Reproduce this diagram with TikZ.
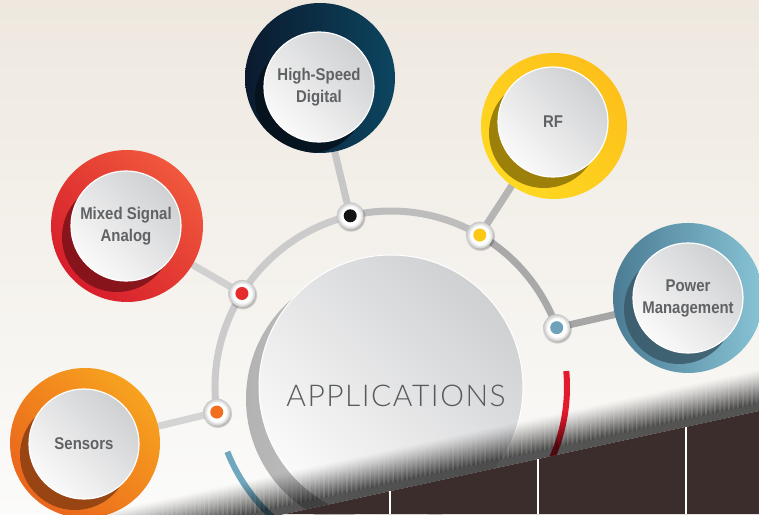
\documentclass[tikz,border=0pt]{standalone}
\usepackage{fontspec}
\setmainfont{Liberation Sans}
\newfontfamily\labelfont[FakeStretch=0.88]{Liberation Sans}
\newfontfamily\titlefont[LetterSpace=5]{Lato Light}
\usetikzlibrary{calc,shadows}

% palette
\definecolor{bgtop}{HTML}{EEE8DF}
\definecolor{bgmid}{HTML}{F6F4F0}
\definecolor{bgbot}{HTML}{FBFBFA}
\definecolor{labelgrey}{HTML}{616264}
\definecolor{titlegrey}{HTML}{58595B}
\definecolor{discTop}{HTML}{CFD0D2}
\definecolor{discBot}{HTML}{FAFAFA}
\definecolor{ground}{HTML}{3B2D2C}
\definecolor{arcA}{HTML}{CBCBCB}
\definecolor{arcB}{HTML}{BDBDBD}
\definecolor{arcC}{HTML}{A9A9A9}
% ring colours: light, dark, shadow
\definecolor{orA}{HTML}{F7A21F}\definecolor{orB}{HTML}{EA651C}\definecolor{orS}{HTML}{8A3E12}
\definecolor{rdA}{HTML}{F0583C}\definecolor{rdB}{HTML}{D71E2B}\definecolor{rdS}{HTML}{7A1219}
\definecolor{nvA}{HTML}{0C4560}\definecolor{nvB}{HTML}{0B1A2E}\definecolor{nvS}{HTML}{06111B}
\definecolor{ylA}{HTML}{FDC01A}\definecolor{ylB}{HTML}{FED821}\definecolor{ylS}{HTML}{8C7205}
\definecolor{blA}{HTML}{88C3D5}\definecolor{blB}{HTML}{4B7C94}\definecolor{blS}{HTML}{3A5A6A}
% hub centre colours
\definecolor{hubOr}{HTML}{F26F1E}
\definecolor{hubRd}{HTML}{E52B2B}
\definecolor{hubBk}{HTML}{151515}
\definecolor{hubYl}{HTML}{FCC814}
\definecolor{hubBl}{HTML}{6FA2BA}
\definecolor{arcBlue}{HTML}{6FA8BE}
\definecolor{arcRed}{HTML}{E31B2C}

\pgfdeclareradialshading{hubshade}{\pgfpoint{0bp}{0bp}}{color(0bp)=(white); color(17bp)=(white); color(25bp)=(black!22); color(50bp)=(black!22)}

\tikzset{
  spoke/.style={line width=7pt},
  ringarc/.style={line width=7pt},
  accent/.style={line width=6pt},
  disc/.style={circle, minimum size=110pt, inner sep=0pt, draw=white, line width=1.2pt,
    top color=discTop, bottom color=discBot, shading angle=-45,
    text=labelgrey, font=\labelfont\bfseries\fontsize{17}{22}\selectfont, align=center},
  hub/.style={circle, minimum size=27pt, inner sep=0pt, shading=hubshade,
    circular drop shadow={shadow xshift=0.6pt, shadow yshift=-1.2pt, opacity=0.25, fill=black},
    path picture={\fill[#1] (path picture bounding box.center) circle (6.5pt);}},
}

\begin{document}
\begin{tikzpicture}[x=1pt,y=1pt]
\useasboundingbox (0,0) rectangle (759,514);
\clip (0,0) rectangle (759,514);

% backdrop
\shade[top color=bgtop, middle color=bgmid, bottom color=bgbot] (0,0) rectangle (759,514);

% layout anchors
\coordinate (C) at (391,127);
\coordinate (pS) at ($(C)+(188.2:176)$);
\coordinate (pM) at ($(C)+(147.9:176)$);
\coordinate (pH) at ($(C)+(103.4:176)$);
\coordinate (pR) at ($(C)+(59.7:176)$);
\coordinate (pP) at ($(C)+(19.7:176)$);
\coordinate (sensO) at (85,71);   \coordinate (sensC) at (84,70);
\coordinate (msaO) at (127,288);  \coordinate (msaC) at (126,288);
\coordinate (hsdO) at (320,436);  \coordinate (hsdC) at (319,427);
\coordinate (rfO) at (554,388);   \coordinate (rfC) at (553,392);
\coordinate (pmO) at (688,216);   \coordinate (pmC) at (688,216);

% main grey arc
\draw[ringarc, arcA] (pS) arc[start angle=188.2, end angle=103.4, radius=176];
\draw[ringarc, arcB] (pH) arc[start angle=103.4, end angle=59.7, radius=176];
\draw[ringarc, arcC] (pR) arc[start angle=59.7, end angle=19.7, radius=176];

% spokes
\draw[spoke, color=black!17] (pS) -- (sensC);
\draw[spoke, color=black!18] (pM) -- (msaC);
\draw[spoke, color=black!22] (pH) -- (hsdC);
\draw[spoke, color=black!29] (pR) -- (rfC);
\draw[spoke, color=black!35] (pP) -- (pmC);

% Sensors
\shade[top color=orA, bottom color=orB, shading angle=-45] (sensO) circle (75);
\begin{scope}\clip (sensO) circle (75);
  \fill[orS, opacity=0.85] ($(sensC)+(-9,-11)$) circle (55);
\end{scope}
\node[disc] (sens) at (sensC) {Sensors};

% Mixed Signal Analog
\shade[top color=rdA, bottom color=rdB, shading angle=-45] (msaO) circle (76);
\begin{scope}\clip (msaO) circle (76);
  \fill[rdS, opacity=0.85] ($(msaC)+(-9,-11)$) circle (55);
\end{scope}
\node[disc] (msa) at (msaC) {Mixed Signal\\Analog};

% High-Speed Digital
\shade[left color=nvB, right color=nvA] (hsdO) circle (75);
\begin{scope}\clip (hsdO) circle (75);
  \fill[nvS, opacity=0.85] ($(hsdC)+(-9,-11)$) circle (55);
\end{scope}
\node[disc] (hsd) at (hsdC) {High-Speed\\Digital};

% RF
\shade[top color=ylA, bottom color=ylB, shading angle=-45] (rfO) circle (73);
\begin{scope}\clip (rfO) circle (73);
  \fill[ylS, opacity=0.85] ($(rfC)+(-9,-11)$) circle (55);
\end{scope}
\node[disc] (rf) at (rfC) {RF};

% Power Management
\shade[left color=blB, right color=blA] (pmO) circle (75);
\begin{scope}\clip (pmO) circle (75);
  \fill[blS, opacity=0.85] ($(pmC)+(-9,-11)$) circle (55);
\end{scope}
\node[disc] (pm) at (pmC) {Power\\Management};

% hubs on the arc
\node[hub=hubOr] (hS) at (pS) {};
\node[hub=hubRd] (hM) at (pM) {};
\node[hub=hubBk] (hH) at (pH) {};
\node[hub=hubYl] (hR) at (pR) {};
\node[hub=hubBl] (hP) at (pP) {};

% central disc with its extruded edge
\shade[left color=black!30, right color=black!12] ($(C)+(-13,-12)$) circle (132);
\node[circle, minimum size=264pt, inner sep=0pt, draw=white, line width=1pt,
  top color=discTop, bottom color=discBot, shading angle=-45] (app) at (C) {};
\node[font=\titlefont\fontsize{30}{30}\selectfont, text=titlegrey] (apptxt) at (396,118) {APPLICATIONS};

% accent arcs
\draw[accent, arcBlue] ($(C)+(201.6:176)$) arc[start angle=201.6, end angle=245, radius=176];
\draw[accent, arcRed] ($(C)+(5.2:176)$) arc[start angle=5.2, end angle=-32, radius=176];

% shadow where the surface bends down: solid strip, then a soft gradient
\def\slope{0.2173}
\fill[black, fill opacity=0.66] (-10,{-295*\slope}) -- (770,{485*\slope}) -- (770,{485*\slope+8.05}) -- (-10,{-295*\slope+8.05}) -- cycle;
\foreach \i in {0,...,33} {
  \pgfmathsetmacro\op{0.66*(1-(\i+0.5)/34)^1.3}
  \pgfmathsetmacro\ha{8+\i}
  \pgfmathsetmacro\hb{9.05+\i}
  \fill[black, fill opacity=\op] (-10,{-295*\slope+\ha}) -- (770,{485*\slope+\ha}) -- (770,{485*\slope+\hb}) -- (-10,{-295*\slope+\hb}) -- cycle;
}

% dark ground with dividers
\fill[ground] (285,0) -- (759,103) -- (759,0) -- cycle;
\draw[white, line width=2pt] (390,22.8) -- (390,0);
\draw[white, line width=2pt] (538,55) -- (538,0);
\draw[white, line width=2pt] (686,87.1) -- (686,0);
\end{tikzpicture}
\end{document}
